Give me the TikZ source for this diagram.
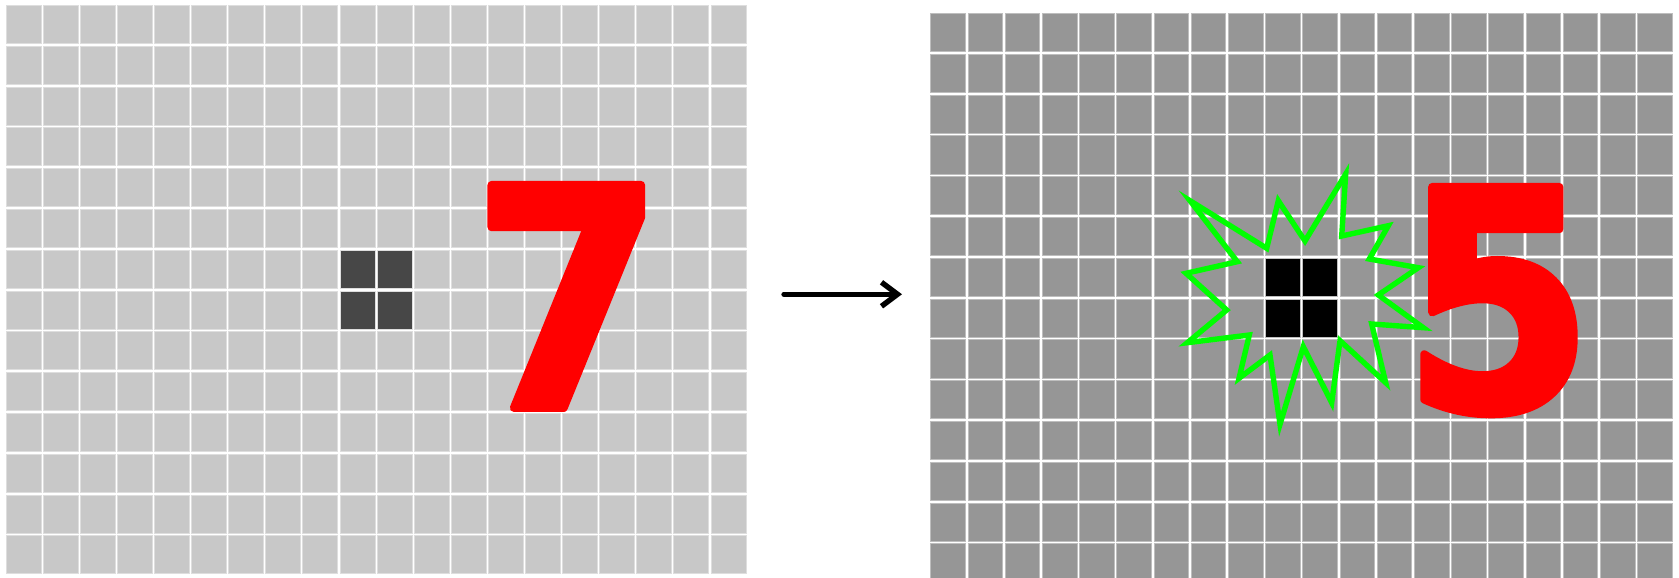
\documentclass[tikz,border=0pt]{standalone}
\usepackage{fontspec}
\newfontfamily\digitfont{DejaVu Sans Bold}[FakeStretch=0.89,RawFeature={embolden=2.6}]
\usetikzlibrary{arrows.meta,positioning}
\definecolor{lightcell}{RGB}{200,200,200}
\definecolor{lightedge}{RGB}{222,222,222}
\definecolor{midcell}{RGB}{150,150,150}
\definecolor{midedge}{RGB}{190,190,190}
\definecolor{darkcell}{RGB}{71,71,71}
\definecolor{burstgreen}{RGB}{0,255,0}

\begin{document}
\begin{tikzpicture}[x=1pt,y=-1pt,
 lcell/.style={fill=lightcell,draw=lightedge,line width=0.7pt},
 rcell/.style={fill=midcell,draw=midedge,line width=0.7pt},
 dcell/.style={fill=darkcell,draw=lightedge,line width=0.7pt},
 bcell/.style={fill=black,draw=midedge,line width=0.7pt},
 digit/.style={text=red,inner sep=0pt,line join=round,font=\digitfont\fontsize{306}{306}\selectfont},
 flow/.style={-{Straight Barb[length=16pt,width=24pt]},line width=5.4pt,line cap=round},
 burst/.style={draw=burstgreen,line width=5.4pt,line join=miter}]
\useasboundingbox (0,0) rectangle (1679,578);
\foreach \c in {0,...,19}
 \foreach \r in {0,...,13}
 {\filldraw[lcell] ({6+37.1*\c},{5.3+40.8*\r}) rectangle ++(35,38);
  \filldraw[rcell] ({930.7+37.2*\c},{13.3+40.8*\r}) rectangle ++(34.7,38.3);}
\foreach \c in {9,10}
 \foreach \r in {6,7}
 {\filldraw[dcell] ({6+37.1*\c},{5.3+40.8*\r}) rectangle ++(35,38);
  \filldraw[bcell] ({930.7+37.2*\c},{13.3+40.8*\r}) rectangle ++(34.7,38.3);}

\draw[burst] (1190,200.7) -- (1266.7,248.3) -- (1278.3,200.7) -- (1305,241)
 -- (1345.7,174) -- (1341.7,236) -- (1388.3,225.7) -- (1369.3,259)
 -- (1418.3,267.7) -- (1378.3,295) -- (1423.3,327.7) -- (1371.7,324)
 -- (1385.7,382.7) -- (1340,340.7) -- (1331.7,402.7) -- (1303.3,346.7)
 -- (1280,424.3) -- (1270,355) -- (1239,378.3) -- (1249.3,335)
 -- (1187.3,342.7) -- (1226.7,310) -- (1186,273.3) -- (1237.3,261.7) -- cycle;

\node[digit,anchor=base] (seven) at (568,408) {7};
\node[digit,anchor=base] (five) at (1498,410) {5};

\coordinate (from) at (784,294.3);
\coordinate (to) at (902,294.3);
\draw[flow] (from) -- (to);
\end{tikzpicture}
\end{document}
